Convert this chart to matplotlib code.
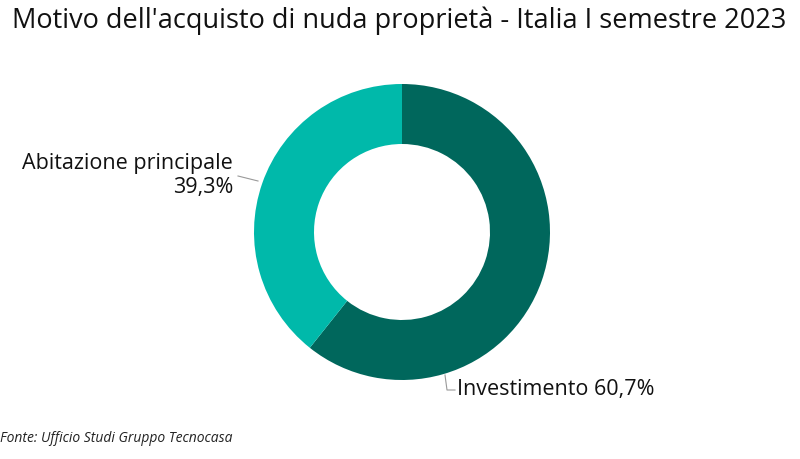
import matplotlib.pyplot as plt

plt.rcParams['font.family'] = ['Open Sans', 'DejaVu Sans']

labels = ['Investimento', 'Abitazione principale']
values = [60.7, 39.3]
colors = ['#00675c', '#00b9aa']

fig = plt.figure(figsize=(8, 4.59), dpi=100)
ax = fig.add_axes([0, 0, 1, 1])
ax.axis('off')

# donut
ax.pie(values, colors=colors, startangle=90, counterclock=False,
       center=(402, 227), radius=148,
       wedgeprops=dict(width=60, edgecolor='none'))
ax.set_xlim(0, 800)
ax.set_ylim(0, 459)
ax.set_aspect('equal')

# etichette
ax.text(233, 296, labels[1], ha='right', va='center', fontsize=15.5, color='#111111')
ax.text(233, 272, f'{values[1]:.1f}%'.replace('.', ','), ha='right', va='center',
        fontsize=15.5, color='#111111')
ax.plot([238, 258], [283, 278], color='#999999', lw=0.8)

ax.text(457, 69, f'{labels[0]} {values[0]:.1f}%'.replace('.', ','), ha='left',
        va='center', fontsize=15.5, color='#111111')
ax.plot([445, 447, 455], [84, 69, 69], color='#999999', lw=0.8)

ax.text(399, 438, "Motivo dell'acquisto di nuda proprietà - Italia I semestre 2023",
        ha='center', va='center', fontsize=19.5, color='#111111')
ax.text(0, 21, 'Fonte: Ufficio Studi Gruppo Tecnocasa', ha='left', va='center',
        fontsize=10, style='italic', color='#222222')

fig.savefig('out.png', dpi=100)
